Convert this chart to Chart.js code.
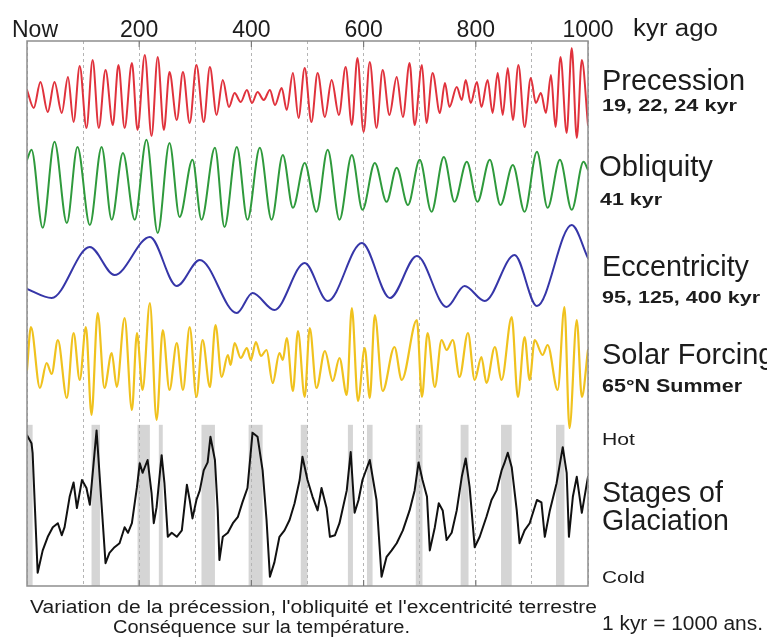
<!DOCTYPE html>
<html><head><meta charset="utf-8">
<script src="https://cdn.jsdelivr.net/npm/chart.js@4.4.1/dist/chart.umd.min.js"></script>
<style>
html,body{margin:0;padding:0;background:#fff;overflow:hidden}
#wrap{position:relative;width:767px;height:637px;overflow:hidden;background:#fff}
#c{position:absolute;left:0;top:0}
.lbl{position:absolute;white-space:nowrap;color:#1c1c1c;transform-origin:0 0;font-family:"Liberation Sans",Arial,Helvetica,sans-serif}
</style></head><body>
<div id="wrap"><canvas id="c" width="767" height="637"></canvas></div>
<script>
// ---- time axis (kyr ago) ----
const tickValues = [0, 200, 400, 600, 800, 1000];
const tickLabels = ['Now', '200', '400', '600', '800', '1000'];

// ---- Precession index ----
const precKyr = [0,12,24,37,49,62,73,83,94,106,117,128,140,153,163,174,187,197,210,222,233,244,254,267,278,290,302,315,326,338,349,360,370,381,392,401,411,422,433,442,454,463,474,484,495,507,518,531,543,556,568,579,589,600,611,623,634,646,659,670,682,691,704,712,723,736,745,753,766,775,782,791,802,810,821,830,839,848,857,866,876,887,898,907,916,925,934,942,951,962,971,980,989,1000];
const precIdx = [0.007,-0.011,0.015,-0.015,0.015,-0.016,0.020,-0.025,0.031,-0.031,0.037,-0.031,0.027,-0.028,0.032,-0.031,0.034,-0.033,0.042,-0.039,0.040,-0.033,0.025,-0.023,0.025,-0.026,0.032,-0.025,0.030,-0.018,0.017,-0.010,0.004,-0.005,0.007,-0.006,0.005,-0.003,0.007,-0.008,0.009,-0.013,0.024,-0.021,0.029,-0.025,0.024,-0.020,0.017,-0.018,0.030,-0.028,0.039,-0.035,0.035,-0.031,0.027,-0.018,0.020,-0.020,0.034,-0.028,0.032,-0.026,0.024,-0.016,0.014,-0.010,0.010,-0.003,0.017,-0.006,0.015,-0.010,0.017,-0.016,0.024,-0.018,0.029,-0.023,0.032,-0.030,0.019,-0.006,0.004,-0.016,0.022,-0.030,0.040,-0.036,0.049,-0.041,0.037,-0.028];

// ---- Obliquity (degrees) ----
const oblKyr = [0,8,28,49,71,90,112,133,151,171,192,213,233,254,272,295,311,335,352,374,393,415,436,456,474,495,516,536,557,579,598,620,641,659,679,700,721,743,762,784,803,825,844,866,887,909,928,950,971,992,1000];
const oblDeg = [23.93,24.18,22.23,24.38,22.35,24.25,22.30,24.25,22.43,24.10,22.43,24.43,22.10,24.35,22.50,23.93,22.43,24.23,22.25,24.25,22.43,24.23,22.43,24.05,22.73,23.85,22.63,24.18,22.43,24.05,22.68,23.85,22.88,23.73,22.80,23.93,22.63,24.00,22.88,23.88,22.88,23.93,22.80,23.80,22.63,24.13,22.73,23.93,22.68,23.88,23.68];

// ---- Eccentricity ----
const eccKyr = [0,44,112,156,219,267,308,374,402,441,495,536,597,647,695,748,780,816,869,909,971,1000];
const ecc = [0.0165,0.012,0.0375,0.0235,0.0425,0.018,0.031,0.0045,0.0145,0.006,0.0295,0.0105,0.0395,0.012,0.033,0.0075,0.018,0.0105,0.0335,0.008,0.0485,0.032];

// ---- Solar forcing, 65N summer (W/m2) ----
const solKyr = [0,7,23,35,44,55,71,83,94,105,115,126,138,151,160,174,187,196,206,219,231,242,254,267,278,290,302,313,326,336,347,358,363,370,381,392,399,408,417,427,438,450,456,463,474,483,495,504,516,531,545,557,570,579,590,602,611,620,634,655,668,695,704,714,727,739,748,759,771,786,798,810,819,834,846,864,875,887,896,905,919,928,946,958,967,980,989,1000];
const solWm2 = [472,515,454,479,468,502,444,509,462,515,427,529,454,489,455,524,432,509,452,539,422,512,452,499,452,515,445,502,455,517,465,487,477,499,484,494,482,500,486,492,459,489,482,504,451,511,445,514,454,491,461,484,447,534,441,494,444,527,451,495,462,522,445,509,455,502,492,502,465,509,462,485,459,495,462,525,445,505,462,502,487,497,452,535,414,522,445,492];

// ---- Stages of glaciation (benthic d18O, permil) ----
const glacKyr = [0,8,10,19,28,37,46,55,62,67,76,83,89,98,106,112,124,140,147,156,165,174,180,187,196,201,206,215,222,226,231,240,245,251,258,267,276,285,290,295,302,308,315,322,327,335,340,343,349,358,367,376,384,393,402,411,420,427,433,441,450,459,468,477,486,491,500,509,518,525,534,540,549,557,570,577,584,591,598,611,623,632,641,650,659,670,682,691,698,705,713,718,727,734,741,748,757,766,775,782,789,798,807,819,828,837,846,851,857,864,873,878,887,896,909,917,923,932,944,955,962,966,973,980,989,998,1000];
const glacD18O = [3.24,3.34,3.46,4.96,4.68,4.51,4.39,4.34,4.49,4.39,4.01,3.83,4.15,3.80,3.90,4.11,3.18,4.84,4.71,4.64,4.59,4.39,4.46,4.34,3.89,3.59,3.71,3.55,3.96,4.34,4.14,3.49,3.84,4.51,4.46,4.51,4.43,3.86,4.05,4.28,4.05,3.93,3.68,3.58,3.26,3.55,4.18,4.80,4.51,4.46,4.34,4.26,4.08,3.90,3.21,3.26,3.68,4.30,5.01,4.83,4.51,4.43,4.30,4.09,3.80,3.51,3.80,4.01,4.18,3.90,4.15,4.51,4.49,4.34,3.93,3.45,4.21,4.05,3.80,3.55,4.05,5.01,4.76,4.68,4.59,4.43,4.18,3.93,3.58,3.80,4.01,4.68,4.39,4.09,4.18,4.55,4.46,4.18,3.76,3.53,3.89,4.64,4.51,4.26,4.05,3.93,3.68,3.59,3.46,3.64,4.18,4.59,4.43,4.34,4.05,4.08,4.51,4.18,3.84,3.39,3.71,4.51,4.01,3.76,4.21,3.84,3.76];

// ---- Interglacial stages (shaded) ----
const igStart = [0,115,197,235,311,395,488,572,606,693,773,845,943];
const igEnd   = [10,130,219,242,335,420,500,581,616,705,787,864,958];

// ---------------------------------------------------------------
const toXY = (xs, ys) => xs.map((x, i) => ({x: x, y: ys[i]}));
const mkLine = (label, xs, ys, axis, color, width, smooth) => ({
  label: label, data: toXY(xs, ys), yAxisID: axis,
  borderColor: color, borderWidth: width, pointRadius: 0, fill: false,
  tension: 0, cubicInterpolationMode: smooth ? 'monotone' : 'default',
  borderJoinStyle: 'round', borderCapStyle: 'round'
});

const GLAC_SHADE_TOP = 3.11;   // d18O value where the shaded bands start

const deco = {
  id: 'deco',
  beforeDraw(chart) {
    const {ctx, chartArea: a, scales} = chart;
    const x = scales.x, yg = scales.yGlac;
    const top = yg.getPixelForValue(GLAC_SHADE_TOP);
    ctx.save();
    ctx.fillStyle = '#d5d5d5';
    igStart.forEach((s, i) => {
      const x0 = x.getPixelForValue(s), x1 = x.getPixelForValue(igEnd[i]);
      ctx.fillRect(x0, top, x1 - x0, a.bottom - top);
    });
    ctx.restore();
  },
  afterDraw(chart) {
    const {ctx, chartArea: a, scales} = chart;
    const x = scales.x;
    ctx.save();
    ctx.strokeStyle = '#8e8e8e';
    ctx.lineWidth = 1.5;
    ctx.strokeRect(a.left, a.top, a.right - a.left, a.bottom - a.top);
    ctx.strokeStyle = '#7a7a7a';
    ctx.lineWidth = 1.2;
    tickValues.slice(1, -1).forEach(v => {
      const px = x.getPixelForValue(v);
      ctx.beginPath();
      ctx.moveTo(px, a.top); ctx.lineTo(px, a.top + 6);
      ctx.moveTo(px, a.bottom); ctx.lineTo(px, a.bottom - 6);
      ctx.stroke();
    });
    ctx.fillStyle = '#1c1c1c';
    ctx.font = '23px "Liberation Sans", Arial, sans-serif';
    ctx.textBaseline = 'alphabetic';
    tickValues.forEach((v, i) => {
      const px = x.getPixelForValue(v);
      if (i === 0) { ctx.textAlign = 'left'; ctx.fillText(tickLabels[i], px - 15, 36.5); }
      else { ctx.textAlign = 'center'; ctx.fillText(tickLabels[i], px, 36.5); }
    });
    ctx.restore();
  }
};

new Chart(document.getElementById('c'), {
  type: 'line',
  data: {
    datasets: [
      mkLine('Precession', precKyr, precIdx, 'yPrec', '#e0323c', 2, true),
      mkLine('Obliquity', oblKyr, oblDeg, 'yObl', '#2f9a3c', 2, true),
      mkLine('Eccentricity', eccKyr, ecc, 'yEcc', '#3636a8', 2, true),
      mkLine('Solar Forcing', solKyr, solWm2, 'ySol', '#f0c21e', 2.2, true),
      mkLine('Stages of Glaciation', glacKyr, glacD18O, 'yGlac', '#111111', 2, false)
    ]
  },
  options: {
    responsive: false, animation: false, devicePixelRatio: 1,
    layout: {padding: {left: 27, top: 41, right: 179, bottom: 51}},
    plugins: {legend: {display: false}, tooltip: {enabled: false}},
    scales: {
      x: {type: 'linear', min: 0, max: 1000, position: 'top',
          ticks: {display: false, stepSize: 100},
          grid: {color: '#b4b4b4', lineWidth: 1, drawTicks: false},
          border: {display: false, dash: [3, 3]}},
      yPrec: {type: 'linear', display: false, min: -0.489, max: 0.056},
      yObl:  {type: 'linear', display: false, min: 13.275, max: 26.9},
      yEcc:  {type: 'linear', display: false, min: -0.132, max: 0.1405},
      ySol:  {type: 'linear', display: false, min: 256, max: 801},
      yGlac: {type: 'linear', display: false, reverse: true, min: -1.6875, max: 5.125}
    }
  },
  plugins: [deco]
});

// ---- text labels ----
const labels = [
  {t: 'kyr ago', x: 633, b: 36.5, s: 23, w: 85},
  {t: 'Precession', x: 602, b: 91, s: 29, w: 143},
  {t: '19, 22, 24 kyr', x: 602, b: 111.5, s: 17, w: 135, bold: true},
  {t: 'Obliquity', x: 599, b: 177, s: 29, w: 114},
  {t: '41 kyr', x: 600, b: 205, s: 17, w: 62, bold: true},
  {t: 'Eccentricity', x: 602, b: 277, s: 29, w: 147},
  {t: '95, 125, 400 kyr', x: 602, b: 303, s: 17, w: 158, bold: true},
  {t: 'Solar Forcing', x: 602, b: 365, s: 29},
  {t: '65°N Summer', x: 602, b: 392, s: 19, w: 140, bold: true},
  {t: 'Hot', x: 602, b: 445, s: 17, w: 33},
  {t: 'Stages of', x: 602, b: 503, s: 29, w: 121},
  {t: 'Glaciation', x: 602, b: 531, s: 29, w: 127},
  {t: 'Cold', x: 602, b: 583, s: 17, w: 43},
  {t: '1 kyr = 1000 ans.', x: 602, b: 630, s: 20, w: 161},
  {t: "Variation de la précession, l'obliquité et l'excentricité terrestre", x: 30, b: 613, s: 18, w: 567},
  {t: 'Conséquence sur la température.', x: 113, b: 633, s: 18, w: 297}
];
const mctx = document.createElement('canvas').getContext('2d');
const wrap = document.getElementById('wrap');
labels.forEach(L => {
  const d = document.createElement('div');
  d.className = 'lbl';
  d.textContent = L.t;
  const font = (L.bold ? 'bold ' : '') + L.s + 'px "Liberation Sans", Arial, sans-serif';
  d.style.font = font;
  d.style.lineHeight = L.s + 'px';
  d.style.left = L.x + 'px';
  d.style.top = (L.b - 0.8465 * L.s) + 'px';
  if (L.w) {
    mctx.font = font;
    const m = mctx.measureText(L.t).width;
    d.style.transform = 'scaleX(' + (L.w / m).toFixed(4) + ')';
  }
  wrap.appendChild(d);
});
</script></body></html>
